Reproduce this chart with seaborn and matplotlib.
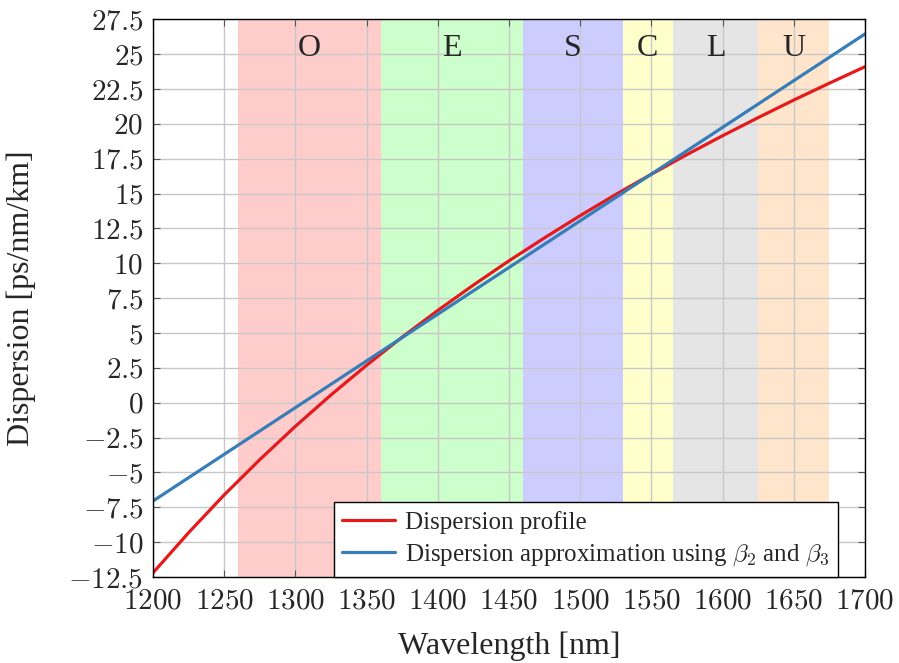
import numpy as np
import pandas as pd
import matplotlib
matplotlib.use("Agg")
import matplotlib.pyplot as plt
import seaborn as sns

# ---- data ----
wl_red = [1200, 1225, 1250, 1275, 1300, 1325, 1350, 1375, 1400, 1425, 1450,
          1475, 1500, 1525, 1550, 1575, 1600, 1625, 1650, 1675, 1700]
d_red = [-12.2, -9.32, -6.61, -4.08, -1.69, 0.56, 2.69, 4.71, 6.62, 8.44, 10.18,
         11.83, 13.42, 14.94, 16.39, 17.80, 19.15, 20.45, 21.71, 22.92, 24.1]
wl_blue = [1200, 1250, 1300, 1350, 1400, 1450, 1500, 1550, 1600, 1650, 1700]
d_blue = [-7.05, -3.7, -0.35, 3.0, 6.35, 9.7, 13.05, 16.4, 19.75, 23.1, 26.45]

band_names = ["O", "E", "S", "C", "L", "U"]
band_start = [1260, 1360, 1460, 1530, 1565, 1625]
band_end = [1360, 1460, 1530, 1565, 1625, 1675]
band_colors = ["#ffcccc", "#ccffcc", "#ccccff", "#ffffcc", "#e5e5e5", "#ffe5cc"]

x_ticks = [1200, 1250, 1300, 1350, 1400, 1450, 1500, 1550, 1600, 1650, 1700]
y_ticks = [-12.5, -10, -7.5, -5, -2.5, 0, 2.5, 5, 7.5, 10, 12.5, 15, 17.5, 20, 22.5, 25, 27.5]

label_red = "Dispersion profile"
label_blue = r"Dispersion approximation using $\beta_2$ and $\beta_3$"

# ---- style ----
sns.set_theme(style="ticks")
plt.rcParams["font.family"] = ["Liberation Serif", "DejaVu Serif"]
plt.rcParams["mathtext.fontset"] = "cm"

df = pd.concat([
    pd.DataFrame({"wl": wl_red, "D": d_red, "series": label_red}),
    pd.DataFrame({"wl": wl_blue, "D": d_blue, "series": label_blue}),
])

fig = plt.figure(figsize=(8.99, 6.63), dpi=100)
ax = fig.add_axes([0.1702, 0.1297, 0.7920, 0.8412])

for s, e, c, n in zip(band_start, band_end, band_colors, band_names):
    ax.axvspan(s, e, color=c, lw=0, zorder=0)
    ax.text((s + e) / 2, 25.4, n, ha="center", va="center", fontsize=23, zorder=3)

ax.grid(True, color="#c8c8c8", lw=1.0, zorder=1)
ax.set_axisbelow(False)

sns.lineplot(data=df, x="wl", y="D", hue="series",
             palette={label_red: "#e41a1c", label_blue: "#377eb8"},
             lw=2.3, ax=ax, zorder=4, legend=True)

ax.set_xlim(1200, 1700)
ax.set_ylim(-12.5, 27.5)
ax.set_xticks(x_ticks)
ax.set_yticks(y_ticks)
ax.set_xticklabels([f"${v}$" for v in x_ticks])
def fmt(v):
    s = f"{abs(v):g}"
    return f"$-{s}$" if v < 0 else f"${s}$"
ax.set_yticklabels([fmt(v) for v in y_ticks])
ax.tick_params(axis="both", direction="in", length=5, width=0.8, labelsize=21,
               top=True, right=True, color="#555555")
ax.tick_params(axis="x", pad=8)
ax.tick_params(axis="y", pad=7)
for sp in ax.spines.values():
    sp.set_color("black")
    sp.set_linewidth(1.0)
    sp.set_zorder(5)

ax.set_xlabel("Wavelength [nm]", fontsize=23)
ax.set_ylabel("Dispersion [ps/nm/km]", fontsize=23)
ax.xaxis.set_label_coords(0.5, -0.097)
ax.yaxis.set_label_coords(-0.164, 0.5)

handles, labels = ax.get_legend_handles_labels()
leg = ax.legend(handles, labels, loc="lower right", bbox_to_anchor=(0.962, 0.0),
                borderaxespad=0, fontsize=18, frameon=True, fancybox=False,
                edgecolor="black", framealpha=1, handlelength=2.1,
                handletextpad=0.4, borderpad=0.35, labelspacing=0.35)
leg.get_frame().set_linewidth(1.0)
leg.set_zorder(6)

fig.savefig("out.png", dpi=100)
